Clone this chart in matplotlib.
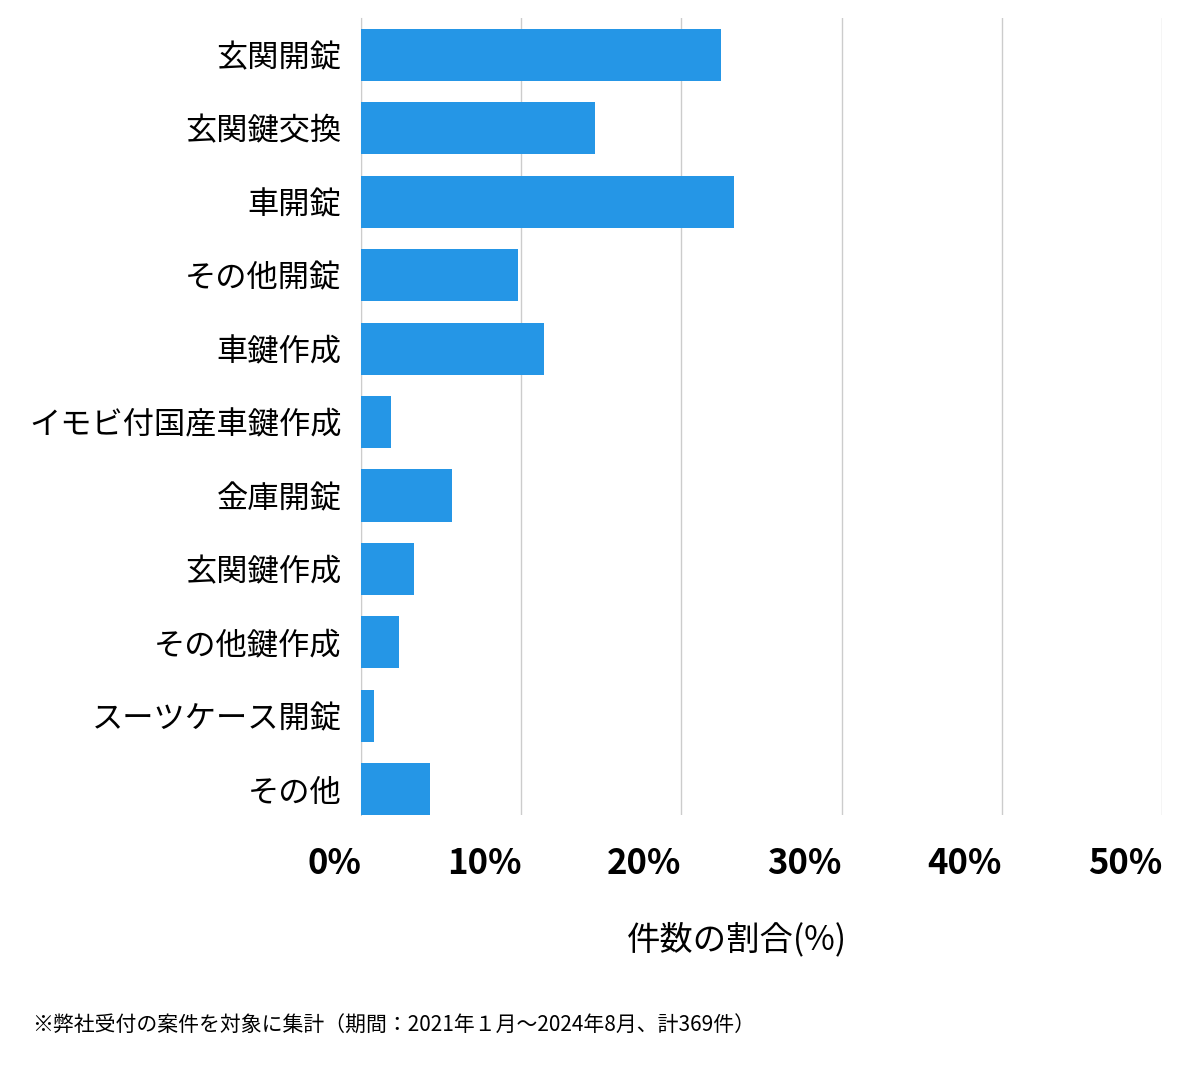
import matplotlib.pyplot as plt
import numpy as np

plt.rcParams['font.family'] = 'Noto Sans CJK JP'

categories = ['玄関開錠', '玄関鍵交換', '車開錠', 'その他開錠', '車鍵作成', 'イモビ付国産車鍵作成',
              '金庫開錠', '玄関鍵作成', 'その他鍵作成', 'スーツケース開錠', 'その他']
values = [22.5, 14.6, 23.3, 9.8, 11.4, 1.9, 5.7, 3.3, 2.4, 0.8, 4.3]
xticks = [0, 10, 20, 30, 40, 50]
xtick_labels = ['0%', '10%', '20%', '30%', '40%', '50%']

fig = plt.figure(figsize=(12, 10.69), dpi=100)
ax = fig.add_axes([0.3008, 0.2376, 0.6675, 0.7455])

y = np.arange(len(categories))
ax.barh(y, values, height=0.71, color='#2596e6', zorder=3)
ax.set_ylim(10.35, -0.5)
ax.set_xlim(0, 50)
ax.set_yticks(y)
ax.set_yticklabels(categories, fontsize=22.5)
ax.set_xticks(xticks)
ax.set_xticklabels(xtick_labels, fontsize=25, fontweight='bold', ha='right')
ax.tick_params(axis='both', length=0, pad=14)
ax.tick_params(axis='x', pad=22)
ax.grid(axis='x', color='#cccccc', linewidth=1, zorder=0)
for s in ['top', 'right', 'bottom']:
    ax.spines[s].set_visible(False)
ax.spines['left'].set_color('#cccccc')
ax.set_xlabel('件数の割合(%)', fontsize=24, labelpad=30, x=0.47)

fig.text(0.027, 0.035, '※弊社受付の案件を対象に集計（期間：2021年１月〜2024年8月、計369件）', fontsize=15)

fig.savefig('out.png')
